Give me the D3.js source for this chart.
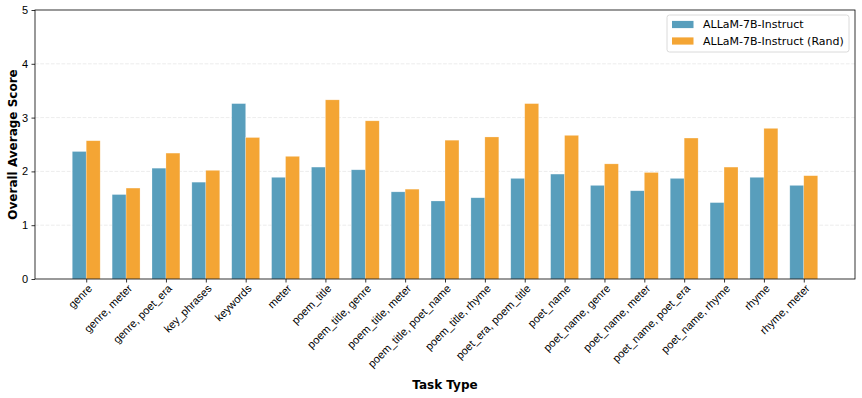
<!DOCTYPE html>
<html>
<head>
<meta charset="utf-8">
<script src="https://cdn.jsdelivr.net/npm/d3@7"></script>
<style>
  body { margin: 0; background: #fff; }
  svg { font-family: "DejaVu Sans", sans-serif; }
</style>
</head>
<body>
<svg id="chart" width="862" height="398"></svg>
<script>
const tasks = ["genre", "genre, meter", "genre, poet_era", "key_phrases", "keywords", "meter",
    "poem_title", "poem_title, genre", "poem_title, meter", "poem_title, poet_name",
    "poem_title, rhyme", "poet_era, poem_title", "poet_name", "poet_name, genre",
    "poet_name, meter", "poet_name, poet_era", "poet_name, rhyme", "rhyme", "rhyme, meter"];
const allamScores = [2.37, 1.57, 2.06, 1.80, 3.26, 1.89, 2.08, 2.03, 1.62, 1.45,
    1.51, 1.87, 1.95, 1.74, 1.64, 1.87, 1.42, 1.89, 1.74];
const randScores = [2.57, 1.69, 2.34, 2.02, 2.63, 2.28, 3.33, 2.94, 1.67, 2.58,
    2.64, 3.26, 2.67, 2.14, 1.98, 2.62, 2.08, 2.80, 1.92];
const seriesNames = ["ALLaM-7B-Instruct", "ALLaM-7B-Instruct (Rand)"];
const yTicks = [0, 1, 2, 3, 4, 5];

const margin = {top: 10, right: 7, bottom: 119, left: 35};
const width = 862 - margin.left - margin.right;
const height = 398 - margin.top - margin.bottom;
const colors = ["#589ebc", "#f4a534"];
const barW = 0.35;

const svg = d3.select("#chart");
const g = svg.append("g").attr("transform", `translate(${margin.left},${margin.top})`);

// matplotlib style numeric x axis with auto margins
const n = tasks.length;
const lo = -barW, hi = n - 1 + barW;
const pad = (hi - lo) * 0.05;
const x = d3.scaleLinear().domain([lo - pad, hi + pad]).range([0, width]);
const y = d3.scaleLinear().domain([0, 5]).range([height, 0]);

// grid
g.append("g").selectAll("line")
    .data(yTicks.slice(1, -1))
    .join("line")
    .attr("x1", 0).attr("x2", width)
    .attr("y1", d => y(d)).attr("y2", d => y(d))
    .attr("stroke", "#b0b0b0")
    .attr("stroke-opacity", 0.3)
    .attr("stroke-dasharray", "3.7,1.6")
    .attr("stroke-width", 0.8);

const series = [allamScores, randScores];
series.forEach((vals, s) => {
    g.append("g").selectAll("rect")
        .data(vals)
        .join("rect")
        .attr("x", (d, i) => x(i + (s === 0 ? -barW : 0)))
        .attr("width", x(barW) - x(0))
        .attr("y", d => y(d))
        .attr("height", d => y(0) - y(d))
        .attr("fill", colors[s])
        .attr("stroke", "#ffffff")
        .attr("stroke-opacity", 0.4)
        .attr("stroke-width", 0.6);
});

// axes
const xAxis = g.append("g")
    .attr("transform", `translate(0,${height})`)
    .call(d3.axisBottom(x).tickValues(d3.range(n)).tickFormat(i => tasks[i]).tickSize(3.5).tickPadding(2));
xAxis.select(".domain").remove();
xAxis.selectAll("line").attr("stroke", "#000").attr("stroke-width", 0.8);
xAxis.selectAll("text")
    .attr("font-size", "11px")
    .attr("fill", "#000")
    .attr("text-anchor", "end")
    .attr("dy", "0.55em")
    .attr("transform", "translate(-2,2) rotate(-45)");

const yAxis = g.append("g")
    .call(d3.axisLeft(y).tickValues(yTicks).tickFormat(d3.format("d")).tickSize(3.5).tickPadding(3.5));
yAxis.select(".domain").remove();
yAxis.selectAll("line").attr("stroke", "#000").attr("stroke-width", 0.8);
yAxis.selectAll("text").attr("font-size", "11px").attr("fill", "#000");

// spines
g.append("rect")
    .attr("x", 0).attr("y", 0)
    .attr("width", width).attr("height", height)
    .attr("fill", "none")
    .attr("stroke", "#000")
    .attr("stroke-width", 0.8);

// axis titles
svg.append("text")
    .attr("x", margin.left + width / 2)
    .attr("y", 389)
    .attr("text-anchor", "middle")
    .attr("font-size", "12px")
    .attr("font-weight", "bold")
    .text("Task Type");

svg.append("text")
    .attr("transform", `translate(17,${margin.top + height / 2}) rotate(-90)`)
    .attr("text-anchor", "middle")
    .attr("font-size", "12px")
    .attr("font-weight", "bold")
    .text("Overall Average Score");

// legend
const legend = svg.append("g").attr("transform", "translate(667,15)");
legend.append("rect")
    .attr("width", 182).attr("height", 37)
    .attr("rx", 2.5)
    .attr("fill", "#fff").attr("fill-opacity", 0.8)
    .attr("stroke", "#d0d0d0").attr("stroke-width", 0.8);
seriesNames.forEach((name, i) => {
    const row = legend.append("g").attr("transform", `translate(0,${9.5 + i * 16.5})`);
    row.append("rect")
        .attr("x", 5).attr("y", -3.6)
        .attr("width", 21.5).attr("height", 7.2)
        .attr("fill", colors[i]);
    row.append("text")
        .attr("x", 36).attr("y", 0)
        .attr("dy", "0.35em")
        .attr("font-size", "11px")
        .text(name);
});
</script>
</body>
</html>
